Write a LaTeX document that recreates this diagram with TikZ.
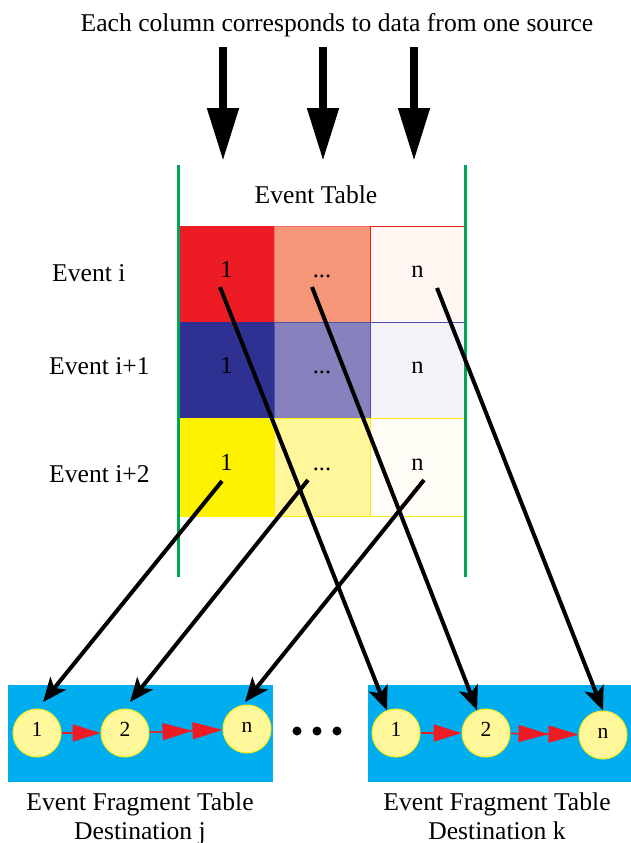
\documentclass[tikz,border=0pt]{standalone}
\usepackage{fontspec}
\setmainfont{Liberation Serif}
\usetikzlibrary{arrows.meta,calc}
\definecolor{cRedA}{RGB}{237,28,36}
\definecolor{cRedB}{RGB}{246,150,121}
\definecolor{cRedC}{RGB}{255,245,241}
\definecolor{cRedL}{RGB}{240,70,70}
\definecolor{cBluA}{RGB}{46,49,146}
\definecolor{cBluB}{RGB}{135,129,189}
\definecolor{cBluC}{RGB}{243,242,248}
\definecolor{cBluL}{RGB}{80,80,170}
\definecolor{cYelA}{RGB}{255,242,0}
\definecolor{cYelB}{RGB}{255,247,153}
\definecolor{cYelC}{RGB}{255,253,246}
\definecolor{cYelL}{RGB}{255,235,20}
\definecolor{cGreen}{RGB}{0,166,81}
\definecolor{cCyan}{RGB}{0,174,239}
\begin{document}
\begin{tikzpicture}[x=1pt,y=-1pt,
  txt/.style={font=\fontsize{25.6}{30}\selectfont, inner sep=0pt},
  cell/.style={rectangle, inner sep=0pt, line width=1pt, text height=6pt, text depth=0pt,
    font=\fontsize{24.5}{28}\selectfont},
  evt/.style={circle, minimum size=48pt, inner sep=0pt, fill=cYelB, draw=cYelL, line width=1pt,
    text height=7pt, text depth=0pt, font=\fontsize{21.5}{25}\selectfont},
  bigarrow/.style={line width=8pt, -{Triangle[length=53pt,width=30pt]}},
  maparrow/.style={line width=4pt, -{Stealth[length=24pt,width=20pt,inset=6pt]}},
  linkarrow/.style={draw=cRedA, line width=1.5pt},
  tablebox/.style={rectangle, fill=cCyan, inner sep=0pt, minimum width=265pt, minimum height=97pt}
]
\useasboundingbox (0,0) rectangle (631,843);

% title and big arrows
\node[txt, anchor=base] (title) at (337,32) {Each column corresponds to data from one source};
\coordinate (b1s) at (223,47); \coordinate (b1e) at (223,161);
\coordinate (b2s) at (323,47); \coordinate (b2e) at (323,161);
\coordinate (b3s) at (414,47); \coordinate (b3e) at (414,161);
\draw[bigarrow] (b1s) -- (b1e);
\draw[bigarrow] (b2s) -- (b2e);
\draw[bigarrow] (b3s) -- (b3e);

\node[txt, anchor=base] (etable) at (316,203) {Event Table};

% cells
\node[cell, fill=cRedA, draw=cRedA, minimum width=95pt, minimum height=96pt] (c11) at (226.5,274) {1};
\node[cell, fill=cRedB, draw=cRedL!80, minimum width=96pt, minimum height=96pt] (c12) at (322,274) {...};
\node[cell, fill=cRedC, draw=cRedA, minimum width=95pt, minimum height=96pt] (c13) at (417.5,274) {n};
\node[cell, fill=cBluA, draw=cBluA, minimum width=95pt, minimum height=96pt] (c21) at (226.5,370) {1};
\node[cell, fill=cBluB, draw=cBluL, minimum width=96pt, minimum height=96pt] (c22) at (322,370) {...};
\node[cell, fill=cBluC, draw=cBluL, minimum width=95pt, minimum height=96pt] (c23) at (417.5,370) {n};
\node[cell, fill=cYelA, draw=cYelA, minimum width=95pt, minimum height=98pt] (c31) at (226.5,467) {1};
\node[cell, fill=cYelB, draw=cYelL, minimum width=96pt, minimum height=98pt] (c32) at (322,467) {...};
\node[cell, fill=cYelC, draw=cYelL, minimum width=95pt, minimum height=98pt] (c33) at (417.5,467) {n};

% green rails
\coordinate (g1t) at (178,165); \coordinate (g1b) at (178,577);
\coordinate (g2t) at (465,165); \coordinate (g2b) at (465,577);
\draw[cGreen, line width=3pt] (g1t) -- (g1b);
\draw[cGreen, line width=3pt] (g2t) -- (g2b);

% row labels
\node[txt, anchor=base west] (r1) at (52,281) {Event i};
\node[txt, anchor=base west] (r2) at (49,374) {Event i+1};
\node[txt, anchor=base west] (r3) at (49,482) {Event i+2};

% destination tables
\node[tablebox] (tj) at (140.5,733.5) {};
\node[tablebox, minimum width=263pt] (tk) at (499.5,733.5) {};

\node[evt] (j1) at (37,733) {1};
\node[evt] (j2) at (125,733) {2};
\node[evt] (jn) at (247,729) {n};
\node[evt] (k1) at (396,733) {1};
\node[evt] (k2) at (486,733) {2};
\node[evt] (kn) at (603,735) {n};

\draw[linkarrow, -{Triangle[length=28pt,width=17pt]}] (j1) -- (j2);
\draw[linkarrow, -{Triangle[length=30pt,width=17pt] Triangle[length=30pt,width=17pt]}] (j2) -- (jn);
\draw[linkarrow, -{Triangle[length=28pt,width=17pt]}] (k1) -- (k2);
\draw[linkarrow, -{Triangle[length=30pt,width=17pt] Triangle[length=30pt,width=17pt]}] (k2) -- (kn);

% dots
\fill (297,731) circle (4.5pt);
\fill (317,731) circle (4.5pt);
\fill (337,731) circle (4.5pt);

% mapping arrows
\coordinate (s11) at (220,287);
\coordinate (s12) at (312,287);
\coordinate (s13) at (437,288);
\coordinate (s31) at (222,481);
\coordinate (s32) at (308,480);
\coordinate (s33) at (424,480);
\draw[maparrow] (s11) -- (k1);
\draw[maparrow] (s12) -- (k2);
\draw[maparrow] (s13) -- (kn.north);
\draw[maparrow] (s31) -- ($(j1.center)+(6,-31)$);
\draw[maparrow] (s32) -- ($(j2.center)+(5,-31)$);
\draw[maparrow] (s33) -- ($(jn.center)+(-2,-27)$);

% captions
\node[txt, anchor=base] (capj1) at (140,810) {Event Fragment Table};
\node[txt, anchor=base] (capj2) at (140,839) {Destination j};
\node[txt, anchor=base] (capk1) at (497,810) {Event Fragment Table};
\node[txt, anchor=base] (capk2) at (497,839) {Destination k};
\end{tikzpicture}
\end{document}
